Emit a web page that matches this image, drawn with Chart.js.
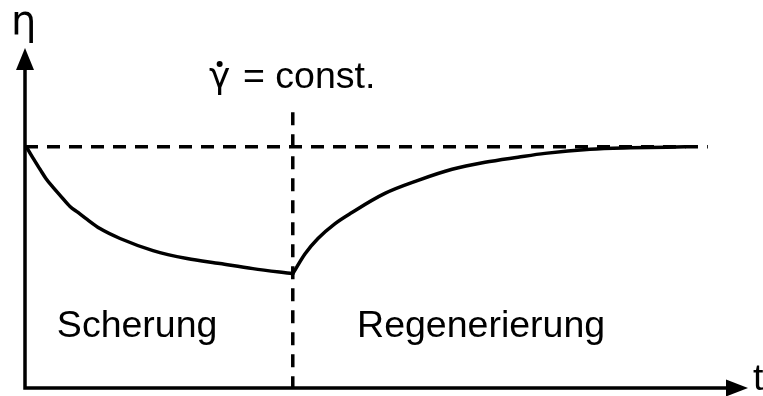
<!DOCTYPE html>
<html>
<head>
<meta charset="utf-8">
<script src="https://cdn.jsdelivr.net/npm/chart.js@4/dist/chart.umd.min.js"></script>
<style>
  html, body { margin: 0; padding: 0; background: #fff; }
  #wrap { width: 763px; height: 396px; position: relative; }
</style>
</head>
<body>
<div id="wrap"><canvas id="c"></canvas></div>
<script>
// Viscosity η over time t: shearing phase, then structural regeneration (thixotropy)
const shearTime = [0.05, 0.30, 0.56, 0.78, 1.05, 1.31, 1.68, 1.98, 2.32, 2.80, 3.55, 4.78, 6.05, 7.28, 8.51, 10];
const shearEta  = [1.0, 0.953, 0.907, 0.869, 0.832, 0.799, 0.753, 0.728, 0.699, 0.661, 0.620, 0.570, 0.537, 0.516, 0.495, 0.474];

const regenTime = [10, 10.46, 10.94, 11.58, 12.21, 13.44, 14.68, 15.95, 17.18, 18.41, 19.42, 21.1, 22.6, 24.65];
const regenEta  = [0.474, 0.557, 0.620, 0.682, 0.728, 0.807, 0.861, 0.907, 0.936, 0.957, 0.973, 0.990, 0.996, 1.0];

const restLevel = [1.0, 1.0];        // initial viscosity η0
const restTime  = [0, 25.5];
const switchTime = [10, 10];         // end of shearing
const switchEta  = [1.144, 0];

const regionLabels = ['Scherung', 'Regenerierung'];
const axisLabels = ['η', 't'];

const toXY = (xs, ys) => xs.map((x, i) => ({ x, y: ys[i] }));

const FONT = '37.5px "Liberation Sans", Arial, sans-serif';
const GREEK = '40px "DejaVu Sans", sans-serif';

const decorations = {
  id: 'decorations',
  afterDraw(chart) {
    const { ctx, chartArea: a, scales: { x, y } } = chart;
    ctx.save();
    ctx.strokeStyle = '#000';
    ctx.fillStyle = '#000';
    ctx.lineWidth = 3.5;

    // axes
    ctx.beginPath();
    ctx.moveTo(a.left, a.bottom + 1.75);
    ctx.lineTo(a.left, a.top + 10);
    ctx.moveTo(a.left - 1.75, a.bottom);
    ctx.lineTo(a.right - 10, a.bottom);
    ctx.stroke();

    // arrow heads
    ctx.beginPath();
    ctx.moveTo(a.left, a.top);
    ctx.lineTo(a.left - 9, a.top + 22);
    ctx.lineTo(a.left + 9, a.top + 22);
    ctx.closePath();
    ctx.fill();
    ctx.beginPath();
    ctx.moveTo(a.right, a.bottom);
    ctx.lineTo(a.right - 22, a.bottom - 8.5);
    ctx.lineTo(a.right - 22, a.bottom + 8.5);
    ctx.closePath();
    ctx.fill();

    ctx.textBaseline = 'alphabetic';
    ctx.textAlign = 'left';

    // axis titles
    ctx.font = GREEK;
    ctx.fillText(axisLabels[0], a.left - 14, 34);
    ctx.font = FONT;
    ctx.fillText(axisLabels[1], a.right + 5, a.bottom + 2);

    // region labels
    ctx.fillText(regionLabels[0], x.getPixelForValue(1.19), y.getPixelForValue(0.212));
    ctx.fillText(regionLabels[1], x.getPixelForValue(12.4), y.getPixelForValue(0.212));

    // shear rate annotation: gamma with a dot above
    const gx = 209, gy = 88;
    ctx.font = '36px "DejaVu Sans", sans-serif';
    ctx.fillText('γ', gx, gy);
    const gw = ctx.measureText('γ').width;
    ctx.beginPath();
    ctx.arc(gx + gw / 2, gy - 24, 3, 0, Math.PI * 2);
    ctx.fill();
    ctx.font = FONT;
    ctx.fillText('= const.', 243, gy);

    ctx.restore();
  }
};

const lineStyle = {
  borderColor: '#000',
  borderWidth: 3.5,
  pointRadius: 0,
  fill: false,
  clip: false
};

new Chart(document.getElementById('c'), {
  type: 'line',
  data: {
    datasets: [
      { ...lineStyle, data: toXY(restTime, restLevel), borderDash: [13, 9] },
      { ...lineStyle, data: toXY(switchTime, switchEta), borderDash: [13, 9] },
      { ...lineStyle, data: toXY(shearTime, shearEta), cubicInterpolationMode: 'monotone', borderCapStyle: 'round' },
      { ...lineStyle, data: toXY(regenTime, regenEta), cubicInterpolationMode: 'monotone', borderCapStyle: 'round' }
    ]
  },
  options: {
    responsive: true,
    maintainAspectRatio: false,
    animation: false,
    layout: { padding: { left: 25, right: 15, top: 48, bottom: 8 } },
    plugins: { legend: { display: false }, tooltip: { enabled: false } },
    scales: {
      x: { type: 'linear', min: 0, max: 27, display: false },
      y: { type: 'linear', min: 0, max: 1.41, display: false }
    }
  },
  plugins: [decorations]
});
</script>
</body>
</html>
